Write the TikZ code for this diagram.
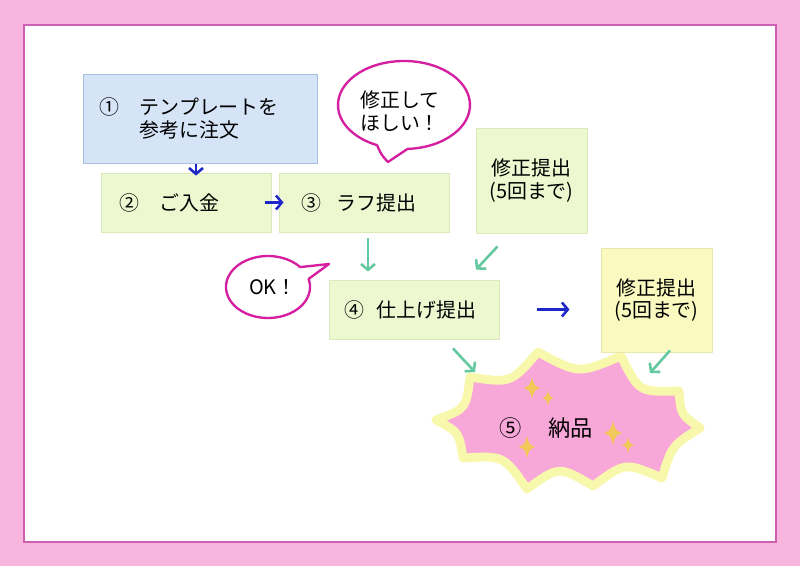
\documentclass[tikz,border=0pt]{standalone}
\usepackage{fontspec}
\newfontfamily\jp{Noto Sans CJK JP}
\usetikzlibrary{calc,arrows.meta}
\definecolor{bgpink}{RGB}{248,182,222}
\definecolor{framepink}{RGB}{206,96,180}
\definecolor{boxgreen}{RGB}{238,248,208}
\definecolor{boxgreenline}{RGB}{218,234,186}
\definecolor{boxblue}{RGB}{214,228,248}
\definecolor{boxblueline}{RGB}{168,190,226}
\definecolor{boxyellow}{RGB}{250,250,192}
\definecolor{boxyellowline}{RGB}{232,232,170}
\definecolor{bubbleline}{RGB}{214,30,160}
\definecolor{arrowblue}{RGB}{30,40,200}
\definecolor{arrowgreen}{RGB}{100,200,160}
\definecolor{burstpink}{RGB}{248,168,216}
\definecolor{burstedge}{RGB}{248,248,172}
\definecolor{spark}{RGB}{242,200,90}
\begin{document}
\begin{tikzpicture}[x=0.03cm,y=-0.03cm,
  every node/.style={font=\jp\fontsize{17}{19.5}\selectfont, text=black},
  greenbox/.style={draw=boxgreenline, fill=boxgreen, line width=0.8pt, inner ysep=0pt,
    minimum height=1.77cm, minimum width=5.1cm, align=left},
  bluebox/.style={draw=boxblueline, fill=boxblue, line width=0.8pt, inner ysep=0pt,
    minimum height=2.67cm, minimum width=7.02cm, align=left},
  sidebox/.style={draw=boxgreenline, fill=boxgreen, line width=0.8pt, inner sep=0pt,
    minimum height=3.15cm, minimum width=3.33cm, align=center},
  yellowbox/.style={draw=boxyellowline, fill=boxyellow, line width=0.8pt, inner sep=0pt,
    minimum height=3.12cm, minimum width=3.33cm, align=center},
  bubble/.style={draw=bubbleline, line width=2pt, fill=white, line join=round},
  garrow/.style={draw=arrowgreen, line width=2.2pt, -{Straight Barb[length=5pt,width=12pt]}},
  barrow/.style={draw=arrowblue, line width=2.2pt, -{Straight Barb[length=5pt,width=12pt]}},
  burst/.style={draw=burstedge, fill=burstpink, line width=7.5pt, line join=round},
  sparkle/.pic={\fill[spark] (0,-1) .. controls (0.22,-0.22) .. (0.75,0)
      .. controls (0.22,0.22) .. (0,1) .. controls (-0.22,0.22) .. (-0.75,0)
      .. controls (-0.22,-0.22) .. cycle;}
]
\useasboundingbox (0,0) rectangle (800,566);
% background and frame
\fill[bgpink] (0,0) rectangle (800,566);
\fill[white] (24,25) rectangle (776,542);
\draw[framepink, line width=1.2pt] (24,25) rectangle (776,542);

% burst
\coordinate (p1) at (436,420);
\coordinate (p2) at (470,377);
\coordinate (p3) at (538,352);
\coordinate (p4) at (621,356);
\coordinate (p5) at (679,391);
\coordinate (p6) at (700,428);
\coordinate (p7) at (662,478);
\coordinate (p8) at (593,486);
\coordinate (p9) at (527,489);
\coordinate (p10) at (463,458);
\path[burst] (p1)
  .. controls ($(p1)!0.5!(p2)!0.5cm!-90:(p2)$) .. (p2)
  .. controls ($(p2)!0.5!(p3)!0.6cm!-90:(p3)$) .. (p3)
  .. controls ($(p3)!0.5!(p4)!0.6cm!-90:(p4)$) .. (p4)
  .. controls ($(p4)!0.5!(p5)!0.65cm!-90:(p5)$) .. (p5)
  .. controls ($(p5)!0.5!(p6)!0.3cm!-90:(p6)$) .. (p6)
  .. controls ($(p6)!0.5!(p7)!0.35cm!-90:(p7)$) .. (p7)
  .. controls ($(p7)!0.5!(p8)!0.6cm!-90:(p8)$) .. (p8)
  .. controls ($(p8)!0.5!(p9)!0.65cm!-90:(p9)$) .. (p9)
  .. controls ($(p9)!0.5!(p10)!0.6cm!-90:(p10)$) .. (p10)
  .. controls ($(p10)!0.5!(p1)!0.35cm!-90:(p1)$) .. cycle;
\pic[scale=11] at (532,388) {sparkle};
\pic[scale=7.5] at (548,398) {sparkle};
\pic[scale=11] at (527,447) {sparkle};
\pic[scale=12] at (613,433) {sparkle};
\pic[scale=8] at (628,445) {sparkle};
\node[font=\jp\fontsize{19}{22}\selectfont] (nohin) at (546,428) {\makebox[2.2em][l]{⑤}納品};

% boxes
\node[bluebox, inner xsep=0.51cm, text width=6.0cm] (b1) at (200,118.5)
  {\makebox[2em][l]{①}テンプレートを\\\hspace*{2em}参考に注文};
\node[greenbox, inner xsep=0.57cm, text width=3.96cm] (b2) at (186,202.5)
  {\makebox[2em][l]{②}ご入金};
\node[greenbox, inner xsep=0.69cm, text width=3.72cm] (b3) at (364,202.5)
  {\makebox[1.75em][l]{③}ラフ提出};
\node[sidebox] (r1) at (531.5,180.5) {修正提出\\(5回まで)};
\node[greenbox, inner xsep=0.48cm, text width=4.14cm] (b4) at (414,309.5)
  {\makebox[1.6em][l]{④}仕上げ提出};
\node[yellowbox] (r2) at (656.5,300) {修正提出\\(5回まで)};

% speech bubbles
\coordinate (c1) at (404,105);
\coordinate (tip1) at (388,162);
\draw[bubble] ($(c1)+(87:66 and 44)$)
  arc[start angle=87, end angle=-246, x radius=66, y radius=44]
  to[bend right=12] (tip1) -- cycle;
\node[align=left] (t1) at (400,111.5) {修正して\\ほしい！};
\coordinate (c2) at (268,287);
\coordinate (tip2) at (329,264);
\draw[bubble] ($(c2)+(-15:42 and 31)$)
  arc[start angle=-15, end angle=320, x radius=42, y radius=31]
  -- (tip2) -- cycle;
\node (t2) at (273,287) {OK！};

% arrows
\draw[barrow] ($(b1.south)+(-4,1)$) -- ($(b2.north)+(10,3)$);
\draw[barrow] ($(b2.east)+(-6,0)$) -- ($(b3.west)+(5,0)$);
\draw[barrow] ($(b4.east)+(38,0)$) -- ($(b4.east)+(70,0)$);
\draw[garrow] ($(b3.south)+(4,6)$) -- ($(b4.north)+(-46,-8)$);
\draw[garrow] ($(r1.south)+(-34,13)$) -- ($(b4.north)+(62,-10)$);
\draw[garrow] ($(b4.south)+(39,9)$) -- ($(nohin)+(-71,-56)$);
\draw[garrow] ($(r2.south)+(13.5,-2)$) -- ($(nohin)+(104,-55)$);
\end{tikzpicture}
\end{document}
